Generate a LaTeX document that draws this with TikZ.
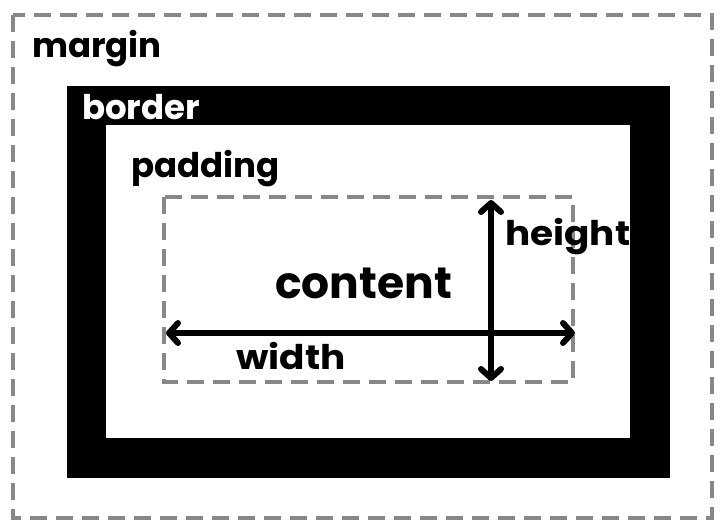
\documentclass[tikz,border=0pt]{standalone}
\usepackage{fontspec}
\setmainfont{Poppins}[UprightFont=* Bold]
\usetikzlibrary{arrows.meta, positioning}
\definecolor{dashgray}{RGB}{136, 136, 136}

\begin{document}
\begin{tikzpicture}[
  x=1pt, y=-1pt,
  dashbox/.style = {draw=dashgray, line width=4pt, dash pattern=on 17pt off 9pt},
  lbl/.style = {anchor=base west, inner sep=0pt, font=\fontsize{34}{34}\selectfont},
  arr/.style = {{Straight Barb[round, length=9pt, width=20pt]}-{Straight Barb[round, length=9pt, width=20pt]},
                line width=6pt, line cap=round}
]
\useasboundingbox (0,0) rectangle (722,527);
% margin
\draw[dashbox] (13,15) rectangle (712,518);
\node[lbl] (margin) at (32,57) {margin};
% border
\fill (67,86) rectangle (670,478);
\fill[white] (106,125) rectangle (630,438);
\node[lbl, text=white] (border) at (82,119) {border};
% padding + content
\node[lbl] (padding) at (131,177) {padding};
\draw[dashbox] (164,197) rectangle (573,382);
\node[lbl, font=\fontsize{44}{44}\selectfont] (content) at (275,298) {content};
\node[lbl, xscale=1.1] (height) at (505,245) {height};
\node[lbl, xscale=1.1] (width) at (236,369) {width};
% arrows
\coordinate (wl) at (166,333);
\coordinate (wr) at (575,333);
\coordinate (ht) at (491,200);
\coordinate (hb) at (491,381);
\draw[arr] (wl) -- (wr);
\draw[arr] (ht) -- (hb);
\end{tikzpicture}
\end{document}
